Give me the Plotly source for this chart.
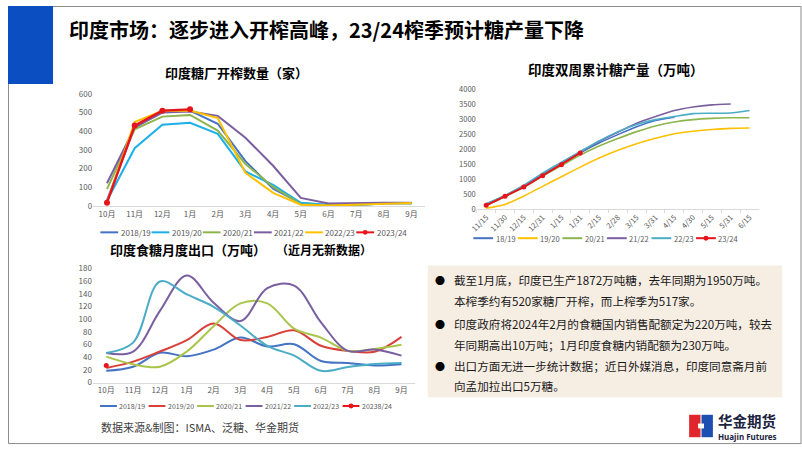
import plotly.graph_objects as go

W, H = 802, 451
FONT = "Noto Sans CJK SC"


def fx(x):
    return x / W


def fy(y):
    return 1 - y / H


# ---------------- data ----------------
months = ["10月", "11月", "12月", "1月", "2月", "3月", "4月", "5月", "6月", "7月", "8月", "9月"]

mill_names = ["2018/19", "2019/20", "2020/21", "2021/22", "2022/23", "2023/24"]
mills_1819 = [30, 420, 505, 510, 440, 240, 92, 15, 5, 10, 15, 15]
mills_1920 = [28, 309, 435, 445, 386, 185, 113, 17, 5, 3, 15, 15]
mills_2021 = [90, 410, 478, 487, 403, 225, 102, 10, 3, 5, 15, 15]
mills_2122 = [122, 420, 500, 505, 482, 365, 215, 43, 13, 17, 18, 18]
mills_2223 = [20, 449, 510, 511, 470, 178, 70, 7, 3, 8, 14, 16]
mills_2324 = [18, 430, 510, 517]

periods = ["11/15", "11/30", "12/15", "12/31", "1/15", "1/31", "2/15", "2/28",
           "3/15", "3/31", "4/15", "4/30", "5/15", "5/31", "6/15"]
prod_names = ["18/19", "19/20", "20/21", "21/22", "22/23", "23/24"]
prod_1819 = [150, 430, 760, 1150, 1520, 1880, 2200, 2480, 2740, 2950, 3060]
prod_1920 = [32, 160, 440, 760, 1080, 1400, 1700, 1960, 2180, 2360, 2510, 2590, 2650, 2690, 2700]
prod_2021 = [120, 420, 740, 1100, 1450, 1800, 2100, 2350, 2580, 2770, 2900, 2980, 3020, 3040, 3040]
prod_2122 = [170, 450, 780, 1170, 1530, 1880, 2250, 2560, 2860, 3080, 3280, 3400, 3470, 3500]
prod_2223 = [180, 460, 800, 1200, 1560, 1920, 2270, 2580, 2820, 2980, 3080, 3180, 3190, 3200, 3280]
prod_2324 = [130, 432, 735, 1113, 1481, 1872]

exp_names = ["2018/19", "2019/20", "2020/21", "2021/22", "2022/23", "20238/24"]
exp_1819 = [18.5, 25, 47, 41.5, 52, 71, 57, 60.5, 34, 31, 27, 29]
exp_1920 = [23, 33, 49, 67, 93, 67, 72, 82.5, 58, 50, 48.5, 72]
exp_2021 = [41, 29, 25, 49, 89, 125, 125, 85, 71, 50, 53, 59.5]
exp_2122 = [46.5, 49, 113, 169, 126, 97, 149, 153, 95, 50, 52, 42.5]
exp_2223 = [46.5, 63, 159.5, 139, 119.5, 90, 58, 42.5, 18.5, 24.5, 29.5, 31]
exp_2324 = [27]

# ---------------- styles ----------------
BLUE = "#4472C4"
CYAN = "#1CAFEA"
GREEN = "#8DB54B"
PURPLE = "#7A5FA0"
YELLOW = "#FFC000"
RED = "#E8141B"
TEAL = "#4BACC6"
RED2 = "#D9403A"
GREEN2 = "#A9C64A"

c1 = [BLUE, CYAN, GREEN, PURPLE, YELLOW, RED]
c2 = [BLUE, YELLOW, GREEN, PURPLE, TEAL, RED]
c3 = [BLUE, RED2, GREEN2, PURPLE, TEAL, RED]

fig = go.Figure()

# chart 1
for name, vals, col in zip(mill_names, [mills_1819, mills_1920, mills_2021, mills_2122, mills_2223, mills_2324], c1):
    last = name == "2023/24"
    fig.add_trace(go.Scatter(
        x=months[:len(vals)], y=vals, name=name,
        mode="lines+markers" if last else "lines",
        line=dict(color=col, width=2.4 if last else 2),
        marker=dict(size=6, color=col),
        xaxis="x", yaxis="y", showlegend=False))

# chart 2
for name, vals, col in zip(prod_names, [prod_1819, prod_1920, prod_2021, prod_2122, prod_2223, prod_2324], c2):
    last = name == "23/24"
    fig.add_trace(go.Scatter(
        x=periods[:len(vals)], y=vals, name=name,
        mode="lines+markers" if last else "lines",
        line=dict(color=col, width=2 if last else 1.6, shape="linear" if last else "spline", smoothing=0.6),
        marker=dict(size=5, color=col),
        xaxis="x2", yaxis="y2", showlegend=False))

# chart 3
for name, vals, col in zip(exp_names, [exp_1819, exp_1920, exp_2021, exp_2122, exp_2223, exp_2324], c3):
    last = name == "20238/24"
    fig.add_trace(go.Scatter(
        x=months[:len(vals)], y=vals, name=name,
        mode="markers" if last else "lines",
        line=dict(color=col, width=2, shape="spline", smoothing=1.0),
        marker=dict(size=5, color=col),
        xaxis="x3", yaxis="y3", showlegend=False))

tickfont = dict(family=FONT, size=8, color="#595959")
tickfont2 = dict(family=FONT, size=7.5, color="#595959")
xcommon = dict(type="category", showgrid=False, zeroline=False, showline=True,
               linecolor="#D9D9D9", linewidth=1, fixedrange=True)
ycommon = dict(showgrid=False, zeroline=False, showline=False, fixedrange=True)

layout = dict(
    width=W, height=H, margin=dict(l=0, r=0, t=0, b=0),
    paper_bgcolor="white", plot_bgcolor="rgba(0,0,0,0)",
    font=dict(family=FONT),
    xaxis=dict(xcommon, domain=[fx(86), fx(421.6)], anchor="y", range=[-0.5, 11.5], ticks="", tickfont=tickfont),
    yaxis=dict(ycommon, domain=[fy(205), fy(90)], anchor="x", range=[0, 600], dtick=100, tickfont=tickfont),
    xaxis2=dict(xcommon, domain=[fx(473.5), fx(758.5)], anchor="y2", range=[-0.5, 14.5], tickfont=tickfont2,
                ticks="outside", ticklen=3, tickcolor="#D9D9D9", tickson="boundaries", tickangle=-45),
    yaxis2=dict(ycommon, domain=[fy(208.3), fy(85)], anchor="x2", range=[0, 4000], dtick=500, tickfont=tickfont2),
    xaxis3=dict(xcommon, domain=[fx(85.7), fx(411)], anchor="y3", range=[-0.5, 11.5], ticks="", tickfont=tickfont),
    yaxis3=dict(ycommon, domain=[fy(386), fy(269)], anchor="x3", range=[0, 180], dtick=20, tickfont=tickfont),
)

shapes = []
ann = []


def text(x, y, s, size, color="#000000", bold=False, xanchor="left", yanchor="middle", family=FONT):
    ann.append(dict(xref="paper", yref="paper", x=fx(x), y=fy(y), text=f"<b>{s}</b>" if bold else s,
                    showarrow=False, xanchor=xanchor, yanchor=yanchor, borderpad=0,
                    font=dict(family=family, size=size, color=color)))


def rect(x0, y0, x1, y1, fill, line=None, lw=0):
    shapes.append(dict(type="rect", xref="paper", yref="paper", x0=fx(x0), x1=fx(x1), y0=fy(y1), y1=fy(y0),
                       fillcolor=fill, line=dict(width=lw, color=line or fill), layer="below"))


# frame and header
rect(0.5, 0.5, 801, 448.5, "rgba(0,0,0,0)", "#8C8C8C", 1)
rect(0, 0, 45.5, 80, "#0B4EC2")
text(61, 24, "印度市场：逐步进入开榨高峰，23/24榨季预计糖产量下降", 20, "#000000", True)

# chart titles
text(231, 68, "印度糖厂开榨数量（家）", 13, "#000000", True, "center")
text(614, 65, "印度双周累计糖产量（万吨）", 13.5, "#000000", True, "center")
text(182, 250, "印度食糖月度出口（万吨）", 13, "#000000", True, "center")
text(270, 250, "（近月无新数据）", 12, "#000000", True, "left")


# manual legends
def legend(names, colors, x0, y, pitch, sample, size, marker_last=True):
    for i, (n, c) in enumerate(zip(names, colors)):
        xs = x0 + i * pitch
        shapes.append(dict(type="line", xref="paper", yref="paper", x0=fx(xs), x1=fx(xs + sample),
                           y0=fy(y), y1=fy(y), line=dict(color=c, width=2)))
        if marker_last and i == len(names) - 1:
            m = xs + sample / 2
            shapes.append(dict(type="circle", xref="paper", yref="paper", x0=fx(m - 2.5), x1=fx(m + 2.5),
                               y0=fy(y + 2.5), y1=fy(y - 2.5), fillcolor=c, line=dict(width=0)))
        text(xs + sample + 1.5, y, n, size, "#595959")


legend(mill_names, c1, 93.3, 232, 51.7, 18, 8)
legend(prod_names, c2, 470, 238, 45, 20, 7.5)
legend(exp_names, c3, 93, 410, 49, 17, 7)

# text box
rect(424, 266, 782, 401, "#F6EDE3")
lines = [
    (True, 281, "截至1月底，印度已生产1872万吨糖，去年同期为1950万吨。"),
    (False, 302, "本榨季约有520家糖厂开榨，而上榨季为517家。"),
    (True, 326, "印度政府将2024年2月的食糖国内销售配额定为220万吨，较去"),
    (False, 347, "年同期高出10万吨；1月印度食糖内销配额为230万吨。"),
    (True, 369, "出口方面无进一步统计数据；近日外媒消息，印度同意斋月前"),
    (False, 389, "向孟加拉出口5万糖。"),
]
for bullet, y, s in lines:
    if bullet:
        text(436, y, "●", 10, "#000000", False, "center")
    text(449, y, s, 11.6, "#1A1A1A")

# source
text(93, 432, "数据来源&制图：ISMA、泛糖、华金期货", 11, "#404040")

# logo
rect(688, 419, 699.5, 442, "#E0262C")
rect(700.5, 419, 712, 442, "#1D4FB3")
rect(697, 428, 703, 433, "white")
text(716, 424.5, "华金期货", 14.5, "#1B2340", True)
text(716, 441.5, "Huajin Futures", 8, "#1B2340", True, family="Noto Sans")

layout["shapes"] = shapes
layout["annotations"] = ann
fig.update_layout(**layout)

fig.write_html("out.html", config={"displayModeBar": False},
               post_script="document.body.style.margin='0px';document.body.style.overflow='hidden';")
